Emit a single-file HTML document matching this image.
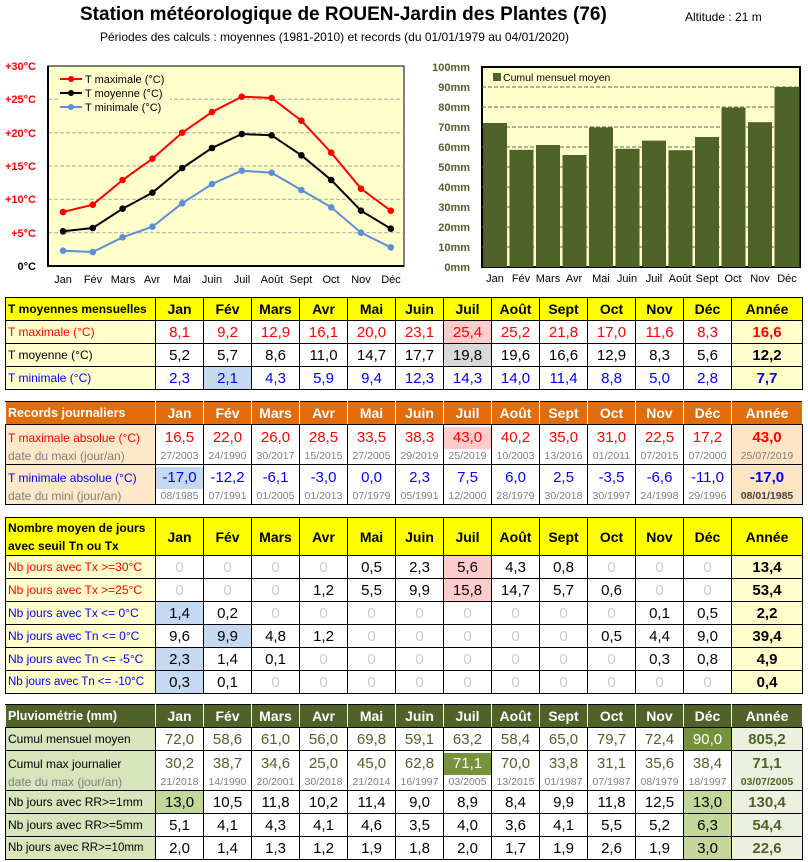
<!DOCTYPE html>
<html><head><meta charset="utf-8"><style>
body{margin:0;width:808px;height:862px;background:#fff;position:relative;font-family:"Liberation Sans",sans-serif;overflow:hidden}
.t{position:absolute;left:5px;border-collapse:collapse;table-layout:fixed;width:797px}
.t td{border:1px solid #000;padding:0;text-align:center;font-size:15px;height:22px;white-space:nowrap;overflow:hidden}
.t td.l{text-align:left;font-size:12px;padding-left:2px}
.h td{font-weight:bold;font-size:14px}
.y td{background:#ff0}
.o td{background:#e26b0a;color:#fff;border-color:#000 #fff}
.g td{background:#4f6228;color:#fff;border-color:#000 #fff}
.r{color:#f00}.b{color:#00f}.k{color:#000}
.ly{background:#ffffcc}.lo{background:#fde9c9}.lg{background:#d8e4bc}
.ay{background:#ffffcc;font-weight:bold}.ao{background:#fce4c4;font-weight:bold}.ag{background:#ebf1de;font-weight:bold;color:#4f6228}
.z{color:#ccc}
.d{font-size:10.5px;color:#7f7f7f;line-height:14px}
.v{line-height:22px}
.pk{background:#fcc}.lb{background:#c5d9f1}.gr{background:#d9d9d9}
.ol{color:#4f6228}.dk{background:#76933c;color:#fff}.lt{background:#c4d79b}
</style></head><body>
<div style="position:absolute;left:80px;top:4px;font-size:19px;font-weight:bold;letter-spacing:0px">Station météorologique de ROUEN-Jardin des Plantes (76)</div>
<div style="position:absolute;left:685px;top:10px;font-size:12px">Altitude : 21 m</div>
<div style="position:absolute;left:100px;top:30px;font-size:12px">Périodes des calculs : moyennes (1981-2010) et records (du 01/01/1979 au 04/01/2020)</div>
<svg width="808" height="290" style="position:absolute;left:0;top:0" font-family="Liberation Sans, sans-serif">
<rect x="48" y="66" width="356" height="200" fill="#ffffcc" stroke="#000"/>
<g stroke="#aaa" stroke-dasharray="4,2"><line x1="48" x2="404" y1="99.3" y2="99.3"/><line x1="48" x2="404" y1="132.7" y2="132.7"/><line x1="48" x2="404" y1="166" y2="166"/><line x1="48" x2="404" y1="199.3" y2="199.3"/><line x1="48" x2="404" y1="232.7" y2="232.7"/></g>
<line x1="48" y1="66" x2="48" y2="267" stroke="#000" stroke-width="2"/><line x1="48" y1="266" x2="404" y2="266" stroke="#000" stroke-width="2"/>
<g fill="#f00" font-size="11" font-weight="bold" text-anchor="end"><text x="36" y="70">+30°C</text><text x="36" y="103">+25°C</text><text x="36" y="137">+20°C</text><text x="36" y="170">+15°C</text><text x="36" y="203">+10°C</text><text x="36" y="237">+5°C</text><text x="36" y="270" fill="#000">0°C</text></g>
<g font-size="11" text-anchor="middle"><text x="63" y="283">Jan</text><text x="93" y="283">Fév</text><text x="123" y="283">Mars</text><text x="152" y="283">Avr</text><text x="182" y="283">Mai</text><text x="212" y="283">Juin</text><text x="242" y="283">Juil</text><text x="272" y="283">Août</text><text x="301" y="283">Sept</text><text x="331" y="283">Oct</text><text x="361" y="283">Nov</text><text x="391" y="283">Déc</text></g>
<polyline fill="none" stroke="#f00" stroke-width="2" points="63,212 92.8,204.7 122.6,180 152.4,158.7 182.2,132.7 212,112 241.8,96.7 271.6,98 301.4,120.7 331.2,152.7 361,188.7 390.8,210.7"/>
<g fill="#f00"><circle cx="63" cy="212" r="3.3"/><circle cx="92.8" cy="204.7" r="3.3"/><circle cx="122.6" cy="180" r="3.3"/><circle cx="152.4" cy="158.7" r="3.3"/><circle cx="182.2" cy="132.7" r="3.3"/><circle cx="212" cy="112" r="3.3"/><circle cx="241.8" cy="96.7" r="3.3"/><circle cx="271.6" cy="98" r="3.3"/><circle cx="301.4" cy="120.7" r="3.3"/><circle cx="331.2" cy="152.7" r="3.3"/><circle cx="361" cy="188.7" r="3.3"/><circle cx="390.8" cy="210.7" r="3.3"/></g>
<polyline fill="none" stroke="#000" stroke-width="2" points="63,231.3 92.8,228 122.6,208.7 152.4,192.7 182.2,168 212,148 241.8,134 271.6,135.3 301.4,155.3 331.2,180 361,210.7 390.8,228.7"/>
<g fill="#000"><circle cx="63" cy="231.3" r="3.3"/><circle cx="92.8" cy="228" r="3.3"/><circle cx="122.6" cy="208.7" r="3.3"/><circle cx="152.4" cy="192.7" r="3.3"/><circle cx="182.2" cy="168" r="3.3"/><circle cx="212" cy="148" r="3.3"/><circle cx="241.8" cy="134" r="3.3"/><circle cx="271.6" cy="135.3" r="3.3"/><circle cx="301.4" cy="155.3" r="3.3"/><circle cx="331.2" cy="180" r="3.3"/><circle cx="361" cy="210.7" r="3.3"/><circle cx="390.8" cy="228.7" r="3.3"/></g>
<polyline fill="none" stroke="#5b8fd6" stroke-width="2" points="63,250.7 92.8,252 122.6,237.3 152.4,226.7 182.2,203.3 212,184 241.8,170.7 271.6,172.7 301.4,190 331.2,207.3 361,232.7 390.8,247.3"/>
<g fill="#5b8fd6"><circle cx="63" cy="250.7" r="3.3"/><circle cx="92.8" cy="252" r="3.3"/><circle cx="122.6" cy="237.3" r="3.3"/><circle cx="152.4" cy="226.7" r="3.3"/><circle cx="182.2" cy="203.3" r="3.3"/><circle cx="212" cy="184" r="3.3"/><circle cx="241.8" cy="170.7" r="3.3"/><circle cx="271.6" cy="172.7" r="3.3"/><circle cx="301.4" cy="190" r="3.3"/><circle cx="331.2" cy="207.3" r="3.3"/><circle cx="361" cy="232.7" r="3.3"/><circle cx="390.8" cy="247.3" r="3.3"/></g>
<rect x="58" y="68" width="112" height="50" fill="#ffffcc"/>
<g stroke-width="2"><line x1="60" x2="82" y1="79" y2="79" stroke="#f00"/><line x1="60" x2="82" y1="93" y2="93" stroke="#000"/><line x1="60" x2="82" y1="107" y2="107" stroke="#5b8fd6"/></g>
<circle cx="71" cy="79" r="3" fill="#f00"/><circle cx="71" cy="93" r="3"/><circle cx="71" cy="107" r="3" fill="#5b8fd6"/>
<g font-size="11"><text x="85" y="83">T maximale (°C)</text><text x="85" y="97">T moyenne (°C)</text><text x="85" y="111">T minimale (°C)</text></g>
<rect x="482" y="67" width="318" height="200" fill="#ffffcc" stroke="#000" stroke-width="2"/>
<g stroke="#666" stroke-dasharray="4,2"><line x1="482" x2="800" y1="87" y2="87"/><line x1="482" x2="800" y1="107" y2="107"/><line x1="482" x2="800" y1="127" y2="127"/><line x1="482" x2="800" y1="147" y2="147"/><line x1="482" x2="800" y1="167" y2="167"/><line x1="482" x2="800" y1="187" y2="187"/><line x1="482" x2="800" y1="207" y2="207"/><line x1="482" x2="800" y1="227" y2="227"/><line x1="482" x2="800" y1="247" y2="247"/></g>
<g fill="#4f6228"><rect x="483" y="123" width="24" height="144"/><rect x="509.5" y="149.8" width="24" height="117.2"/><rect x="536" y="145" width="24" height="122"/><rect x="562.5" y="155" width="24" height="112"/><rect x="589" y="127.4" width="24" height="139.6"/><rect x="615.5" y="148.8" width="24" height="118.2"/><rect x="642" y="140.6" width="24" height="126.4"/><rect x="668.5" y="150.2" width="24" height="116.8"/><rect x="695" y="137" width="24" height="130"/><rect x="721.5" y="107.6" width="24" height="159.4"/><rect x="748" y="122.2" width="24" height="144.8"/><rect x="774.5" y="87" width="25" height="180"/>
<rect x="493" y="73" width="8" height="8"/></g>
<text x="503" y="81" font-size="10.5">Cumul mensuel moyen</text>
<g fill="#4f6228" font-size="11" font-weight="bold" text-anchor="end"><text x="470" y="71">100mm</text><text x="470" y="91">90mm</text><text x="470" y="111">80mm</text><text x="470" y="131">70mm</text><text x="470" y="151">60mm</text><text x="470" y="171">50mm</text><text x="470" y="191">40mm</text><text x="470" y="211">30mm</text><text x="470" y="231">20mm</text><text x="470" y="251">10mm</text><text x="470" y="271">0mm</text></g>
<g font-size="11" text-anchor="middle"><text x="495" y="282">Jan</text><text x="521" y="282">Fév</text><text x="548" y="282">Mars</text><text x="574" y="282">Avr</text><text x="601" y="282">Mai</text><text x="627" y="282">Juin</text><text x="654" y="282">Juil</text><text x="680" y="282">Août</text><text x="707" y="282">Sept</text><text x="733" y="282">Oct</text><text x="760" y="282">Nov</text><text x="787" y="282">Déc</text></g>
</svg>

<table class="t" style="top:297px"><colgroup><col style="width:150px"><col span="12" style="width:48px"><col style="width:71px"></colgroup>
<tr class="h y"><td class="l" style="font-size:12px">T moyennes mensuelles</td><td>Jan</td><td>Fév</td><td>Mars</td><td>Avr</td><td>Mai</td><td>Juin</td><td>Juil</td><td>Août</td><td>Sept</td><td>Oct</td><td>Nov</td><td>Déc</td><td>Année</td></tr>
<tr class="r"><td class="l ly">T maximale (°C)</td><td>8,1</td><td>9,2</td><td>12,9</td><td>16,1</td><td>20,0</td><td>23,1</td><td class="pk">25,4</td><td>25,2</td><td>21,8</td><td>17,0</td><td>11,6</td><td>8,3</td><td class="ay">16,6</td></tr>
<tr class="k"><td class="l ly">T moyenne (°C)</td><td>5,2</td><td>5,7</td><td>8,6</td><td>11,0</td><td>14,7</td><td>17,7</td><td class="gr">19,8</td><td>19,6</td><td>16,6</td><td>12,9</td><td>8,3</td><td>5,6</td><td class="ay">12,2</td></tr>
<tr class="b"><td class="l ly">T minimale (°C)</td><td>2,3</td><td class="lb">2,1</td><td>4,3</td><td>5,9</td><td>9,4</td><td>12,3</td><td>14,3</td><td>14,0</td><td>11,4</td><td>8,8</td><td>5,0</td><td>2,8</td><td class="ay">7,7</td></tr>
</table>

<table class="t" style="top:401px"><colgroup><col style="width:150px"><col span="12" style="width:48px"><col style="width:71px"></colgroup>
<tr class="h o"><td class="l" style="font-size:12.5px">Records journaliers</td><td>Jan</td><td>Fév</td><td>Mars</td><td>Avr</td><td>Mai</td><td>Juin</td><td>Juil</td><td>Août</td><td>Sept</td><td>Oct</td><td>Nov</td><td>Déc</td><td>Année</td></tr>
<tr class="r" style="height:40px"><td class="l lo"><div class="v">T maximale absolue (°C)</div><div class="d" style="font-size:12px">date du maxi (jour/an)</div></td>
<td><div class="v">16,5</div><div class="d">27/2003</div></td><td><div class="v">22,0</div><div class="d">24/1990</div></td><td><div class="v">26,0</div><div class="d">30/2017</div></td><td><div class="v">28,5</div><div class="d">15/2015</div></td><td><div class="v">33,5</div><div class="d">27/2005</div></td><td><div class="v">38,3</div><div class="d">29/2019</div></td><td><div class="v pk">43,0</div><div class="d">25/2019</div></td><td><div class="v">40,2</div><div class="d">10/2003</div></td><td><div class="v">35,0</div><div class="d">13/2016</div></td><td><div class="v">31,0</div><div class="d">01/2011</div></td><td><div class="v">22,5</div><div class="d">07/2015</div></td><td><div class="v">17,2</div><div class="d">07/2000</div></td><td class="ao"><div class="v">43,0</div><div class="d" style="font-weight:normal">25/07/2019</div></td></tr>
<tr class="b" style="height:40px"><td class="l lo"><div class="v">T minimale absolue (°C)</div><div class="d" style="font-size:12px">date du mini (jour/an)</div></td>
<td><div class="v lb">-17,0</div><div class="d">08/1985</div></td><td><div class="v">-12,2</div><div class="d">07/1991</div></td><td><div class="v">-6,1</div><div class="d">01/2005</div></td><td><div class="v">-3,0</div><div class="d">01/2013</div></td><td><div class="v">0,0</div><div class="d">07/1979</div></td><td><div class="v">2,3</div><div class="d">05/1991</div></td><td><div class="v">7,5</div><div class="d">12/2000</div></td><td><div class="v">6,0</div><div class="d">28/1979</div></td><td><div class="v">2,5</div><div class="d">30/2018</div></td><td><div class="v">-3,5</div><div class="d">30/1997</div></td><td><div class="v">-6,6</div><div class="d">24/1998</div></td><td><div class="v">-11,0</div><div class="d">29/1996</div></td><td class="ao"><div class="v">-17,0</div><div class="d" style="color:#444">08/01/1985</div></td></tr>
</table>

<table class="t" style="top:517px"><colgroup><col style="width:150px"><col span="12" style="width:48px"><col style="width:71px"></colgroup>
<tr class="h y" style="height:38px"><td class="l" style="font-size:12px;line-height:18px;white-space:normal">Nombre moyen de jours avec seuil Tn ou Tx</td><td>Jan</td><td>Fév</td><td>Mars</td><td>Avr</td><td>Mai</td><td>Juin</td><td>Juil</td><td>Août</td><td>Sept</td><td>Oct</td><td>Nov</td><td>Déc</td><td>Année</td></tr>
<tr><td class="l ly r">Nb jours avec Tx &gt;=30°C</td><td class="z">0</td><td class="z">0</td><td class="z">0</td><td class="z">0</td><td>0,5</td><td>2,3</td><td class="pk">5,6</td><td>4,3</td><td>0,8</td><td class="z">0</td><td class="z">0</td><td class="z">0</td><td class="ay">13,4</td></tr>
<tr><td class="l ly r">Nb jours avec Tx &gt;=25°C</td><td class="z">0</td><td class="z">0</td><td class="z">0</td><td>1,2</td><td>5,5</td><td>9,9</td><td class="pk">15,8</td><td>14,7</td><td>5,7</td><td>0,6</td><td class="z">0</td><td class="z">0</td><td class="ay">53,4</td></tr>
<tr><td class="l ly b">Nb jours avec Tx &lt;= 0°C</td><td class="lb">1,4</td><td>0,2</td><td class="z">0</td><td class="z">0</td><td class="z">0</td><td class="z">0</td><td class="z">0</td><td class="z">0</td><td class="z">0</td><td class="z">0</td><td>0,1</td><td>0,5</td><td class="ay">2,2</td></tr>
<tr><td class="l ly b">Nb jours avec Tn &lt;= 0°C</td><td>9,6</td><td class="lb">9,9</td><td>4,8</td><td>1,2</td><td class="z">0</td><td class="z">0</td><td class="z">0</td><td class="z">0</td><td class="z">0</td><td>0,5</td><td>4,4</td><td>9,0</td><td class="ay">39,4</td></tr>
<tr><td class="l ly b">Nb jours avec Tn &lt;= -5°C</td><td class="lb">2,3</td><td>1,4</td><td>0,1</td><td class="z">0</td><td class="z">0</td><td class="z">0</td><td class="z">0</td><td class="z">0</td><td class="z">0</td><td class="z">0</td><td>0,3</td><td>0,8</td><td class="ay">4,9</td></tr>
<tr><td class="l ly b" style="font-size:11.5px">Nb jours avec Tn &lt;= -10°C</td><td class="lb">0,3</td><td>0,1</td><td class="z">0</td><td class="z">0</td><td class="z">0</td><td class="z">0</td><td class="z">0</td><td class="z">0</td><td class="z">0</td><td class="z">0</td><td class="z">0</td><td class="z">0</td><td class="ay">0,4</td></tr>
</table>

<table class="t" style="top:704px"><colgroup><col style="width:150px"><col span="12" style="width:48px"><col style="width:71px"></colgroup>
<tr class="h g"><td class="l" style="font-size:12.5px">Pluviométrie (mm)</td><td>Jan</td><td>Fév</td><td>Mars</td><td>Avr</td><td>Mai</td><td>Juin</td><td>Juil</td><td>Août</td><td>Sept</td><td>Oct</td><td>Nov</td><td>Déc</td><td>Année</td></tr>
<tr class="ol"><td class="l lg k">Cumul mensuel moyen</td><td>72,0</td><td>58,6</td><td>61,0</td><td>56,0</td><td>69,8</td><td>59,1</td><td>63,2</td><td>58,4</td><td>65,0</td><td>79,7</td><td>72,4</td><td class="dk">90,0</td><td class="ag">805,2</td></tr>
<tr class="ol" style="height:40px"><td class="l lg k"><div class="v">Cumul max journalier</div><div class="d" style="font-size:12px">date du max (jour/an)</div></td>
<td><div class="v">30,2</div><div class="d">21/2018</div></td><td><div class="v">38,7</div><div class="d">14/1990</div></td><td><div class="v">34,6</div><div class="d">20/2001</div></td><td><div class="v">25,0</div><div class="d">30/2018</div></td><td><div class="v">45,0</div><div class="d">21/2014</div></td><td><div class="v">62,8</div><div class="d">16/1997</div></td><td><div class="v dk">71,1</div><div class="d">03/2005</div></td><td><div class="v">70,0</div><div class="d">13/2015</div></td><td><div class="v">33,8</div><div class="d">01/1987</div></td><td><div class="v">31,1</div><div class="d">07/1987</div></td><td><div class="v">35,6</div><div class="d">08/1979</div></td><td><div class="v">38,4</div><div class="d">18/1997</div></td><td class="ag"><div class="v">71,1</div><div class="d" style="color:#4f6228">03/07/2005</div></td></tr>
<tr><td class="l lg">Nb jours avec RR&gt;=1mm</td><td class="lt">13,0</td><td>10,5</td><td>11,8</td><td>10,2</td><td>11,4</td><td>9,0</td><td>8,9</td><td>8,4</td><td>9,9</td><td>11,8</td><td>12,5</td><td class="lt">13,0</td><td class="ag">130,4</td></tr>
<tr><td class="l lg">Nb jours avec RR&gt;=5mm</td><td>5,1</td><td>4,1</td><td>4,3</td><td>4,1</td><td>4,6</td><td>3,5</td><td>4,0</td><td>3,6</td><td>4,1</td><td>5,5</td><td>5,2</td><td class="lt">6,3</td><td class="ag">54,4</td></tr>
<tr><td class="l lg" style="font-size:11.5px">Nb jours avec RR&gt;=10mm</td><td>2,0</td><td>1,4</td><td>1,3</td><td>1,2</td><td>1,9</td><td>1,8</td><td>2,0</td><td>1,7</td><td>1,9</td><td>2,6</td><td>1,9</td><td class="lt">3,0</td><td class="ag">22,6</td></tr>
</table>
</body></html>
